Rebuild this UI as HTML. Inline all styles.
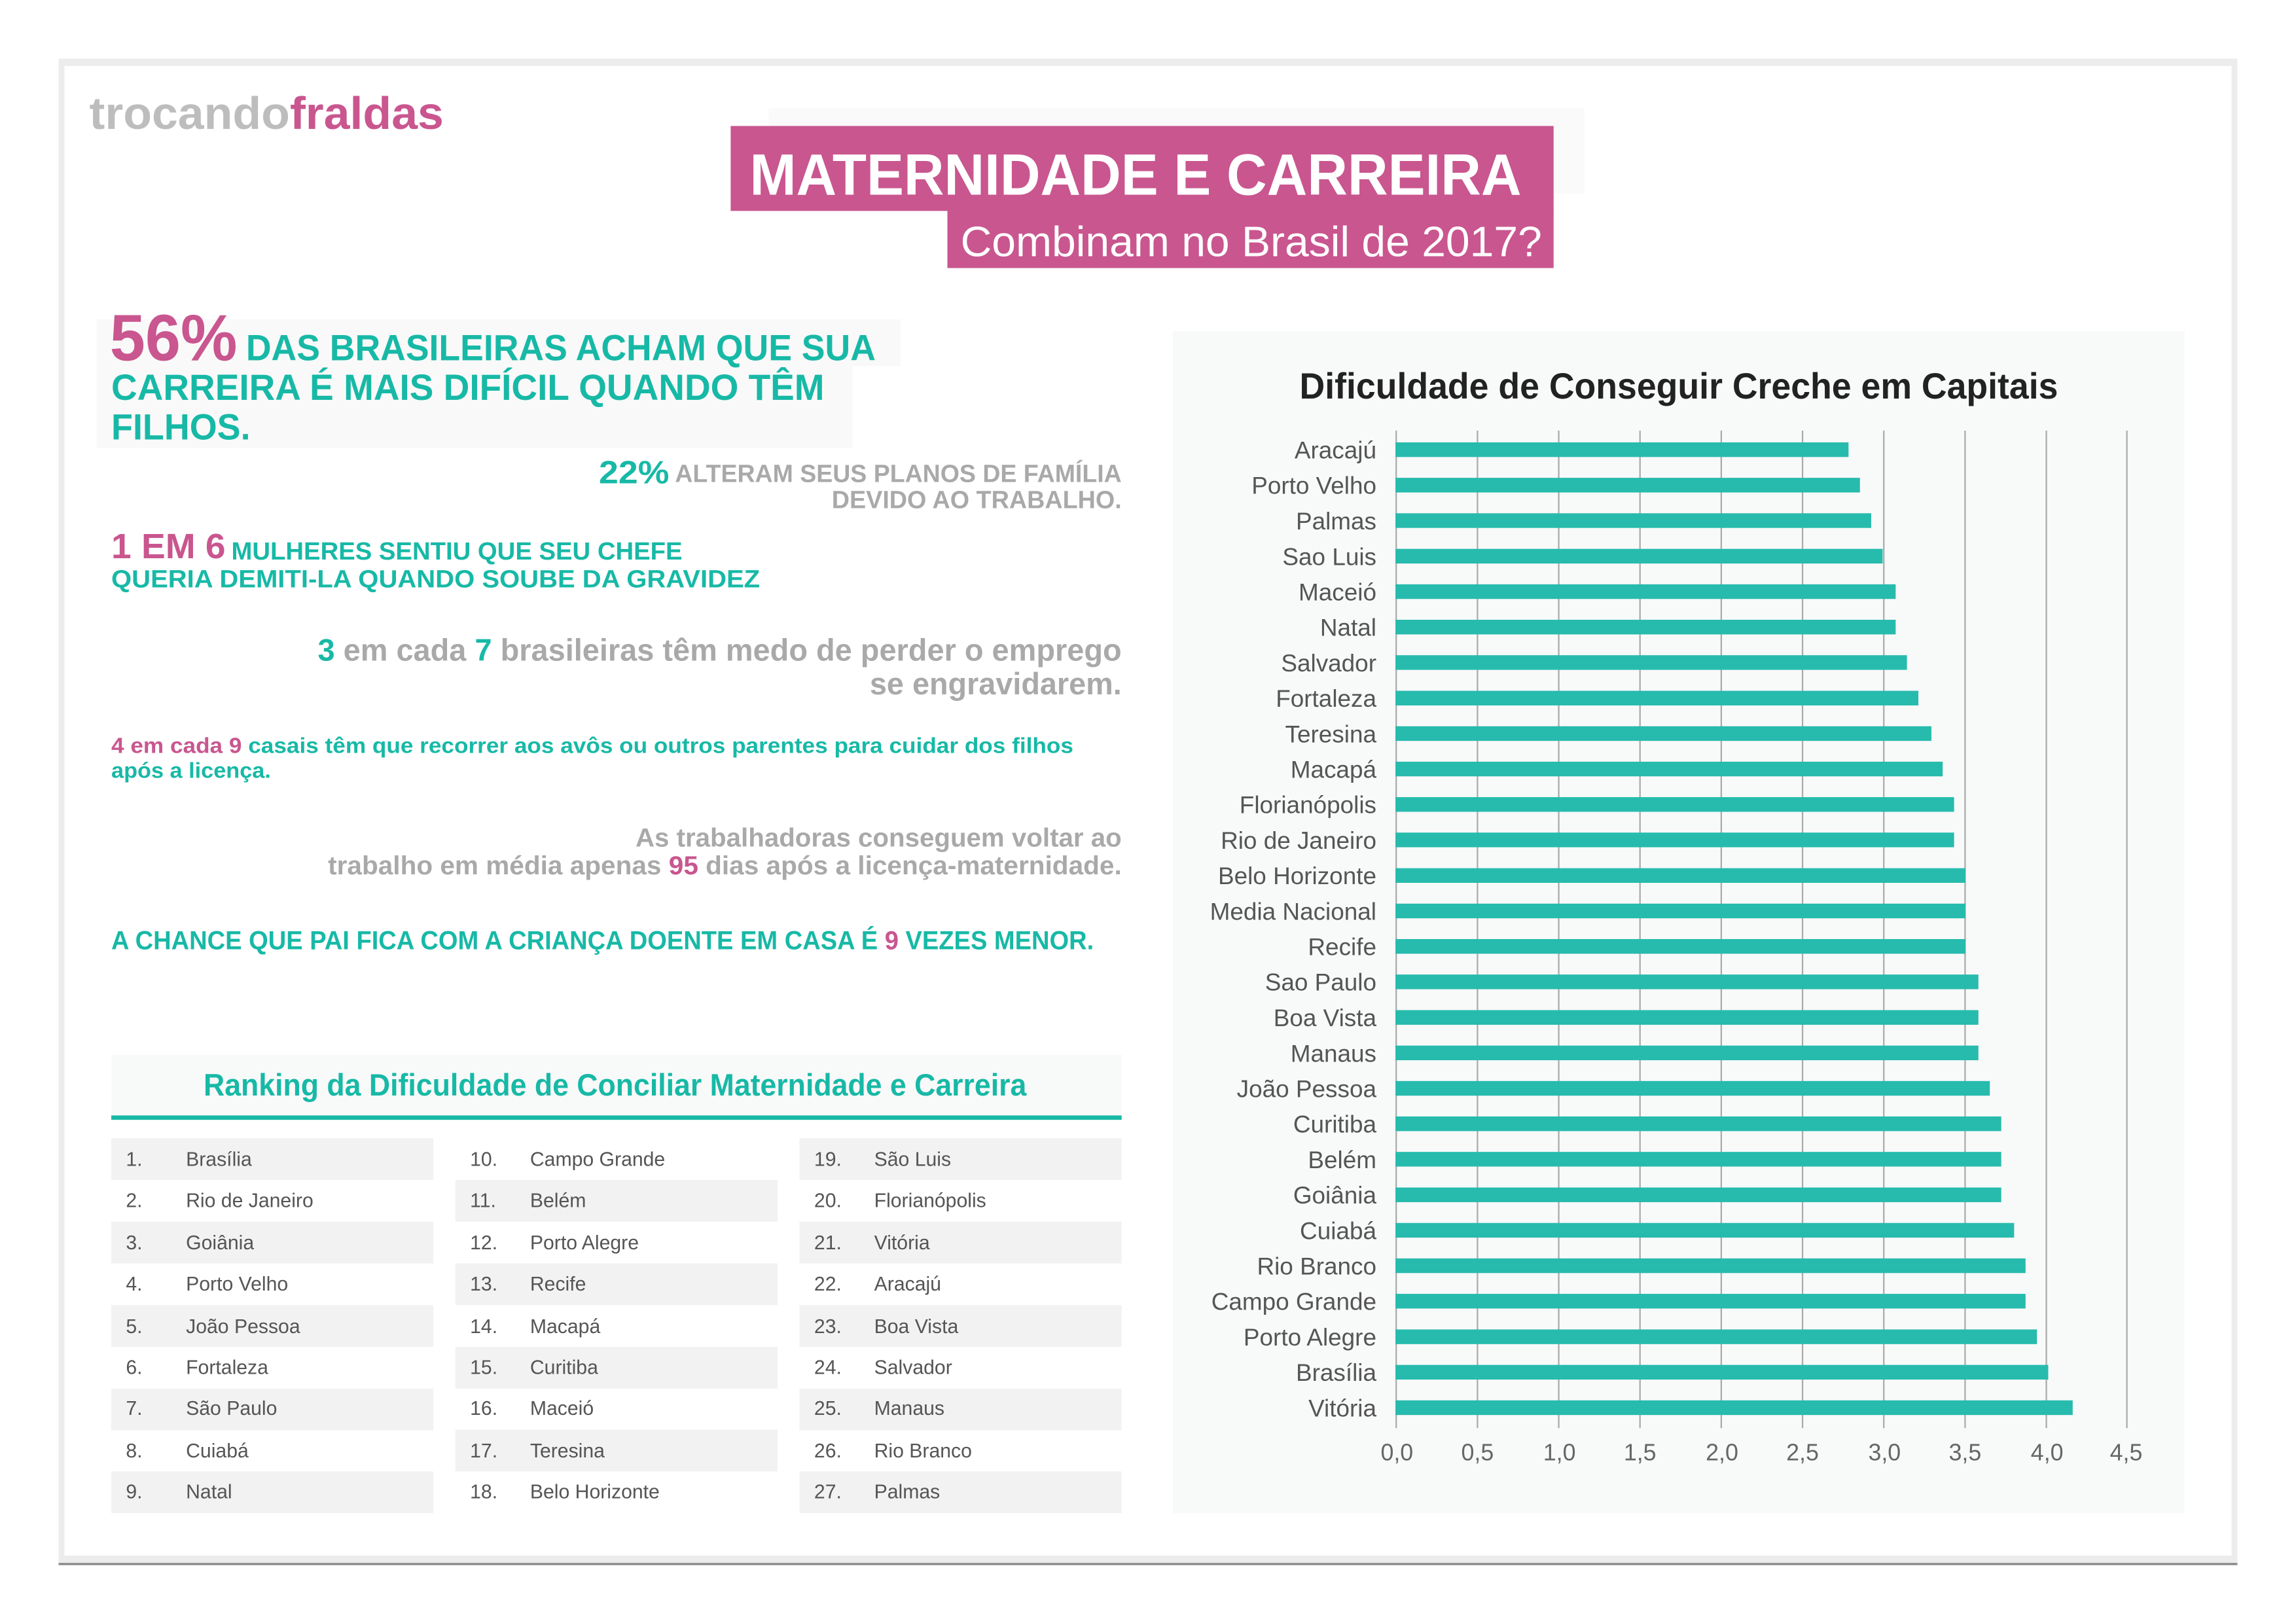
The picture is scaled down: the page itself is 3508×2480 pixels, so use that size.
<!DOCTYPE html>
<html><head><meta charset="utf-8"><style>
html,body{margin:0;padding:0;background:#fff;width:3508px;height:2480px;overflow:hidden}
svg{display:block}
text{font-family:"Liberation Sans",sans-serif}
</style></head><body>
<svg width="3508" height="2480" viewBox="0 0 1568 1108" preserveAspectRatio="none" xmlns="http://www.w3.org/2000/svg">
<rect x="0" y="0" width="1568" height="1108" fill="#fff"/>
<rect x="40" y="40" width="1488" height="1028" fill="#ececec"/>
<rect x="44" y="45" width="1480" height="1017" fill="#fff"/>
<rect x="40" y="1067" width="1488" height="1.5" fill="#8a8a8a"/>
<text x="61" y="88" font-size="31" font-weight="bold" textLength="242" lengthAdjust="spacingAndGlyphs"><tspan fill="#bdbdbd">trocando</tspan><tspan fill="#c9568f">fraldas</tspan></text>
<rect x="525" y="74" width="557" height="58" fill="#fafafa"/>
<rect x="499" y="86" width="562" height="58" fill="#c9568f"/>
<rect x="647" y="143" width="414" height="40" fill="#c9568f"/>
<text x="512" y="133" font-size="40" font-weight="bold" fill="#fff" textLength="527" lengthAdjust="spacingAndGlyphs">MATERNIDADE E CARREIRA</text>
<text x="656" y="175" font-size="29" fill="#fff" textLength="397" lengthAdjust="spacingAndGlyphs">Combinam no Brasil de 2017?</text>
<rect x="66" y="218" width="549" height="32" fill="#f9f9f9"/>
<rect x="66" y="250" width="516" height="56" fill="#f9f9f9"/>
<text x="75" y="246" font-size="45" font-weight="bold" fill="#c9568f" textLength="87" lengthAdjust="spacingAndGlyphs">56%</text>
<g font-weight="bold" fill="#17b9a6" font-size="25">
<text x="168" y="246" textLength="430" lengthAdjust="spacingAndGlyphs">DAS BRASILEIRAS ACHAM QUE SUA</text>
<text x="76" y="273" textLength="487" lengthAdjust="spacingAndGlyphs">CARREIRA É MAIS DIFÍCIL QUANDO TÊM</text>
<text x="76" y="300" textLength="95" lengthAdjust="spacingAndGlyphs">FILHOS.</text>
</g>
<text x="409" y="330" font-size="22" font-weight="bold" fill="#17b9a6" textLength="48" lengthAdjust="spacingAndGlyphs">22%</text>
<g font-weight="bold" fill="#a9a9a9" font-size="17">
<text x="461" y="329" textLength="305" lengthAdjust="spacingAndGlyphs">ALTERAM SEUS PLANOS DE FAMÍLIA</text>
<text x="568" y="347" textLength="198" lengthAdjust="spacingAndGlyphs">DEVIDO AO TRABALHO.</text>
</g>
<text x="76" y="381" font-size="24" font-weight="bold" fill="#c9568f" textLength="78" lengthAdjust="spacingAndGlyphs">1 EM 6</text>
<g font-weight="bold" fill="#17b9a6" font-size="17">
<text x="158" y="382" textLength="308" lengthAdjust="spacingAndGlyphs">MULHERES SENTIU QUE SEU CHEFE</text>
<text x="76" y="401" textLength="443" lengthAdjust="spacingAndGlyphs">QUERIA DEMITI-LA QUANDO SOUBE DA GRAVIDEZ</text>
</g>
<g font-weight="bold" font-size="21" fill="#a9a9a9">
<text x="217" y="451" textLength="549" lengthAdjust="spacingAndGlyphs"><tspan fill="#17b9a6">3</tspan> em cada <tspan fill="#17b9a6">7</tspan> brasileiras têm medo de  perder o emprego</text>
<text x="594" y="474" textLength="172" lengthAdjust="spacingAndGlyphs">se engravidarem.</text>
</g>
<g font-weight="bold" font-size="15" fill="#17b9a6">
<text x="76" y="514" textLength="657" lengthAdjust="spacingAndGlyphs"><tspan fill="#c9568f">4 em cada 9</tspan> casais têm que recorrer aos  avôs ou outros parentes para cuidar dos filhos</text>
<text x="76" y="531" textLength="109" lengthAdjust="spacingAndGlyphs">após a licença.</text>
</g>
<g font-weight="bold" font-size="18" fill="#a9a9a9">
<text x="434" y="578" textLength="332" lengthAdjust="spacingAndGlyphs">As trabalhadoras conseguem voltar ao</text>
<text x="224" y="597" textLength="542" lengthAdjust="spacingAndGlyphs">trabalho em média apenas <tspan fill="#c9568f">95</tspan> dias após a licença-maternidade.</text>
</g>
<text x="76" y="648" font-weight="bold" font-size="18" fill="#17b9a6" textLength="671" lengthAdjust="spacingAndGlyphs">A CHANCE QUE PAI FICA COM A CRIANÇA  DOENTE EM CASA É <tspan fill="#c9568f">9</tspan> VEZES MENOR.</text>
<rect x="76" y="720" width="690" height="42" fill="#f8f9f9"/>
<rect x="76" y="761.5" width="690" height="3" fill="#17b9a6"/>
<text x="139" y="748" font-size="21" font-weight="bold" fill="#17b9a6" textLength="562" lengthAdjust="spacingAndGlyphs">Ranking da Dificuldade de Conciliar Maternidade e Carreira</text>
<g fill="#f2f2f2">
<rect x="76" y="777" width="220" height="28.5"/><rect x="76" y="834" width="220" height="28.5"/><rect x="76" y="891" width="220" height="28.5"/><rect x="76" y="948" width="220" height="28.5"/><rect x="76" y="1004.5" width="220" height="28.5"/>
<rect x="311" y="805.5" width="220" height="28.5"/><rect x="311" y="862.5" width="220" height="28.5"/><rect x="311" y="919.5" width="220" height="28.5"/><rect x="311" y="976" width="220" height="28.5"/>
<rect x="546" y="777" width="220" height="28.5"/><rect x="546" y="834" width="220" height="28.5"/><rect x="546" y="891" width="220" height="28.5"/><rect x="546" y="948" width="220" height="28.5"/><rect x="546" y="1004.5" width="220" height="28.5"/>
</g>
<g font-size="13.5" fill="#555">
<text x="86" y="796">1.</text><text x="127" y="796">Brasília</text>
<text x="86" y="824">2.</text><text x="127" y="824">Rio de Janeiro</text>
<text x="86" y="853">3.</text><text x="127" y="853">Goiânia</text>
<text x="86" y="881">4.</text><text x="127" y="881">Porto Velho</text>
<text x="86" y="910">5.</text><text x="127" y="910">João Pessoa</text>
<text x="86" y="938">6.</text><text x="127" y="938">Fortaleza</text>
<text x="86" y="966">7.</text><text x="127" y="966">São Paulo</text>
<text x="86" y="995">8.</text><text x="127" y="995">Cuiabá</text>
<text x="86" y="1023">9.</text><text x="127" y="1023">Natal</text>
<text x="321" y="796">10.</text><text x="362" y="796">Campo Grande</text>
<text x="321" y="824">11.</text><text x="362" y="824">Belém</text>
<text x="321" y="853">12.</text><text x="362" y="853">Porto Alegre</text>
<text x="321" y="881">13.</text><text x="362" y="881">Recife</text>
<text x="321" y="910">14.</text><text x="362" y="910">Macapá</text>
<text x="321" y="938">15.</text><text x="362" y="938">Curitiba</text>
<text x="321" y="966">16.</text><text x="362" y="966">Maceió</text>
<text x="321" y="995">17.</text><text x="362" y="995">Teresina</text>
<text x="321" y="1023">18.</text><text x="362" y="1023">Belo Horizonte</text>
<text x="556" y="796">19.</text><text x="597" y="796">São Luis</text>
<text x="556" y="824">20.</text><text x="597" y="824">Florianópolis</text>
<text x="556" y="853">21.</text><text x="597" y="853">Vitória</text>
<text x="556" y="881">22.</text><text x="597" y="881">Aracajú</text>
<text x="556" y="910">23.</text><text x="597" y="910">Boa Vista</text>
<text x="556" y="938">24.</text><text x="597" y="938">Salvador</text>
<text x="556" y="966">25.</text><text x="597" y="966">Manaus</text>
<text x="556" y="995">26.</text><text x="597" y="995">Rio Branco</text>
<text x="556" y="1023">27.</text><text x="597" y="1023">Palmas</text>
</g>
<rect x="801" y="226" width="691" height="807" fill="#f8f9f9"/>
<text x="1146.5" y="272" font-size="25" font-weight="bold" fill="#222" text-anchor="middle" textLength="518" lengthAdjust="spacingAndGlyphs">Dificuldade de Conseguir Creche em Capitais</text>
<g stroke="#aaa" stroke-width="1">
<line x1="953.5" y1="294" x2="953.5" y2="975"/><line x1="1009" y1="294" x2="1009" y2="975"/><line x1="1064.5" y1="294" x2="1064.5" y2="975"/><line x1="1120" y1="294" x2="1120" y2="975"/><line x1="1175.5" y1="294" x2="1175.5" y2="975"/><line x1="1231" y1="294" x2="1231" y2="975"/><line x1="1286.5" y1="294" x2="1286.5" y2="975"/><line x1="1342" y1="294" x2="1342" y2="975"/><line x1="1397.5" y1="294" x2="1397.5" y2="975"/><line x1="1452.5" y1="294" x2="1452.5" y2="975"/>
</g>
<g fill="#26bbad">
<rect x="953" y="302" width="309.4" height="10"/>
<rect x="953" y="326.2" width="317.2" height="10"/>
<rect x="953" y="350.4" width="324.9" height="10"/>
<rect x="953" y="374.7" width="332.7" height="10"/>
<rect x="953" y="398.9" width="341.6" height="10"/>
<rect x="953" y="423.1" width="341.6" height="10"/>
<rect x="953" y="447.3" width="349.3" height="10"/>
<rect x="953" y="471.6" width="357.1" height="10"/>
<rect x="953" y="495.8" width="366" height="10"/>
<rect x="953" y="520" width="373.7" height="10"/>
<rect x="953" y="544.2" width="381.5" height="10"/>
<rect x="953" y="568.4" width="381.5" height="10"/>
<rect x="953" y="592.7" width="389.3" height="10"/>
<rect x="953" y="616.9" width="389.3" height="10"/>
<rect x="953" y="641.1" width="389.3" height="10"/>
<rect x="953" y="665.3" width="398.1" height="10"/>
<rect x="953" y="689.6" width="398.1" height="10"/>
<rect x="953" y="713.8" width="398.1" height="10"/>
<rect x="953" y="738" width="405.9" height="10"/>
<rect x="953" y="762.2" width="413.7" height="10"/>
<rect x="953" y="786.4" width="413.7" height="10"/>
<rect x="953" y="810.7" width="413.7" height="10"/>
<rect x="953" y="834.9" width="422.5" height="10"/>
<rect x="953" y="859.1" width="430.3" height="10"/>
<rect x="953" y="883.3" width="430.3" height="10"/>
<rect x="953" y="907.6" width="438.1" height="10"/>
<rect x="953" y="931.8" width="445.8" height="10"/>
<rect x="953" y="956" width="462.5" height="10"/>
</g>
<g font-size="16.5" fill="#555" text-anchor="end">
<text x="940" y="313">Aracajú</text>
<text x="940" y="337.2">Porto Velho</text>
<text x="940" y="361.4">Palmas</text>
<text x="940" y="385.7">Sao Luis</text>
<text x="940" y="409.9">Maceió</text>
<text x="940" y="434.1">Natal</text>
<text x="940" y="458.3">Salvador</text>
<text x="940" y="482.6">Fortaleza</text>
<text x="940" y="506.8">Teresina</text>
<text x="940" y="531">Macapá</text>
<text x="940" y="555.2">Florianópolis</text>
<text x="940" y="579.4">Rio de Janeiro</text>
<text x="940" y="603.7">Belo Horizonte</text>
<text x="940" y="627.9">Media Nacional</text>
<text x="940" y="652.1">Recife</text>
<text x="940" y="676.3">Sao Paulo</text>
<text x="940" y="700.6">Boa Vista</text>
<text x="940" y="724.8">Manaus</text>
<text x="940" y="749">João Pessoa</text>
<text x="940" y="773.2">Curitiba</text>
<text x="940" y="797.4">Belém</text>
<text x="940" y="821.7">Goiânia</text>
<text x="940" y="845.9">Cuiabá</text>
<text x="940" y="870.1">Rio Branco</text>
<text x="940" y="894.3">Campo Grande</text>
<text x="940" y="918.6">Porto Alegre</text>
<text x="940" y="942.8">Brasília</text>
<text x="940" y="967">Vitória</text>
</g>
<g font-size="16" fill="#666" text-anchor="middle">
<text x="954" y="997">0,0</text><text x="1009" y="997">0,5</text><text x="1065" y="997">1,0</text><text x="1120" y="997">1,5</text><text x="1176" y="997">2,0</text><text x="1231" y="997">2,5</text><text x="1287" y="997">3,0</text><text x="1342" y="997">3,5</text><text x="1398" y="997">4,0</text><text x="1452" y="997">4,5</text>
</g>
</svg>
</body></html>
